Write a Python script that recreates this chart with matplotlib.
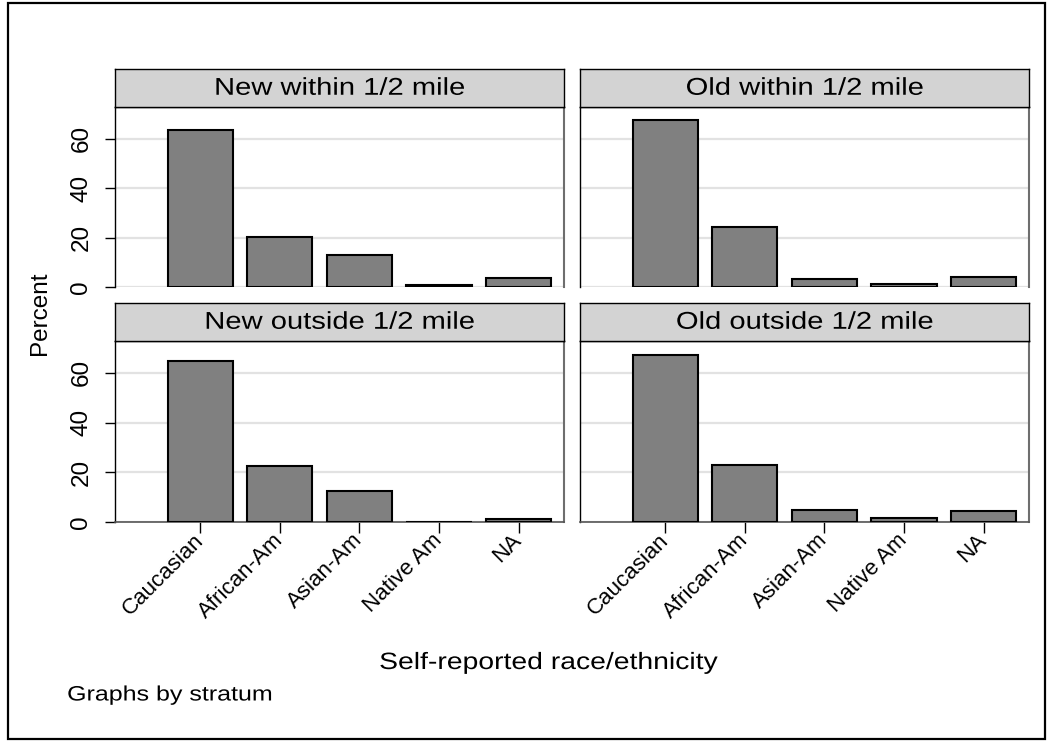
import matplotlib
matplotlib.use('Agg')
import matplotlib.pyplot as plt
from matplotlib.patches import Rectangle
from matplotlib.patheffects import AbstractPathEffect
from matplotlib.transforms import Affine2D

plt.rcParams['font.family'] = ['Liberation Sans', 'DejaVu Sans']

# data
categories = ['Caucasian', 'African-Am', 'Asian-Am', 'Native Am', 'NA']
strata = ['New within 1/2 mile', 'Old within 1/2 mile',
          'New outside 1/2 mile', 'Old outside 1/2 mile']
new_within = [63.5, 20.1, 13.0, 0.9, 3.5]
old_within = [67.7, 24.3, 3.1, 1.3, 4.0]
new_outside = [64.8, 22.5, 12.5, 0.0, 1.2]
old_outside = [67.3, 23.0, 4.8, 1.6, 4.4]
yticks = [0, 20, 40, 60]


class Stretch(AbstractPathEffect):
    # the reference font runs wider than Arial, so stretch glyphs sideways
    def __init__(self, sx):
        super().__init__()
        self.sx = sx

    def draw_path(self, renderer, gc, tpath, affine, rgbFace=None):
        ext = tpath.get_extents()
        cx = (ext.x0 + ext.x1) / 2
        stretch = Affine2D().translate(-cx, 0).scale(self.sx, 1).translate(cx, 0)
        renderer.draw_path(gc, tpath, stretch + affine, rgbFace)


W, H = 1052, 750
fig = plt.figure(figsize=(W / 100, H / 100), dpi=100)

# outer frame of the graph
fig.patches.append(Rectangle((8 / W, 1 - 739 / H), (1045 - 8) / W, (739 - 3) / H,
                             transform=fig.transFigure, fill=False,
                             edgecolor='black', linewidth=1.6))

# panel boxes in pixels: (left, right, top, bottom), strip height
panels = [(115, 564, 107, 287), (580, 1029, 107, 287),
          (115, 564, 341, 522), (580, 1029, 341, 522)]
strip_h = 38
values = [new_within, old_within, new_outside, old_outside]
xs = list(range(1, len(categories) + 1))

for k, (l, r, t, b) in enumerate(panels):
    ax = fig.add_axes([l / W, 1 - b / H, (r - l) / W, (b - t) / H])
    ax.bar(xs, values[k], width=0.82, color='#808080', edgecolor='black',
           linewidth=1.5, zorder=3)
    ax.set_xlim(-0.07, 5.57)
    ax.set_ylim(0, 72.8)
    ax.set_yticks(yticks)
    ax.yaxis.grid(True, color='#e2e2e2', linewidth=1.6)
    ax.set_axisbelow(True)

    left_col = k % 2 == 0
    bottom_row = k >= 2
    if left_col:
        ax.tick_params(axis='y', direction='out', length=7.2, width=1,
                       labelsize=17.5, pad=9)
        for lab in ax.get_yticklabels():
            lab.set_rotation(90)
            lab.set_va('center')
    else:
        ax.tick_params(axis='y', length=0, labelleft=False)

    ax.set_xticks(xs)
    if bottom_row:
        ax.tick_params(axis='x', direction='out', length=8, width=1, pad=3)
        ax.set_xticklabels(categories, rotation=45, ha='right', va='center',
                           rotation_mode='anchor', fontsize=16)
        ax.spines['bottom'].set_color('#555555')
        ax.spines['bottom'].set_linewidth(1.2)
    else:
        ax.tick_params(axis='x', length=0, labelbottom=False)
        ax.spines['bottom'].set_visible(False)

    ax.spines['left'].set_color('black')
    ax.spines['left'].set_linewidth(1.0)
    ax.spines['right'].set_color('#6e6e6e')
    ax.spines['right'].set_linewidth(1.5)
    ax.spines['top'].set_color('black')
    ax.spines['top'].set_linewidth(1.0)

    # strip with the stratum name
    sax = fig.add_axes([l / W, 1 - t / H, (r - l) / W, strip_h / H])
    sax.set_facecolor('#d3d3d3')
    sax.set_xticks([])
    sax.set_yticks([])
    for sp in sax.spines.values():
        sp.set_color('black')
        sp.set_linewidth(1.0)
    sax.text(0.5, 0.48, strata[k], ha='center', va='center', fontsize=17.5,
             transform=sax.transAxes, path_effects=[Stretch(1.2)])

fig.text(40 / W, 1 - 313 / H, 'Percent', rotation=90, ha='center',
         va='center', fontsize=17.5)
fig.text(549 / W, 1 - 663 / H, 'Self-reported race/ethnicity', ha='center',
         va='center', fontsize=17, path_effects=[Stretch(1.2)])
# centred so the sideways stretch keeps its left edge where the reference has it
fig.text(170 / W, 1 - 695 / H, 'Graphs by stratum', ha='center', va='center',
         fontsize=15, path_effects=[Stretch(1.2)])

fig.savefig('out.png', dpi=100, facecolor='white')
